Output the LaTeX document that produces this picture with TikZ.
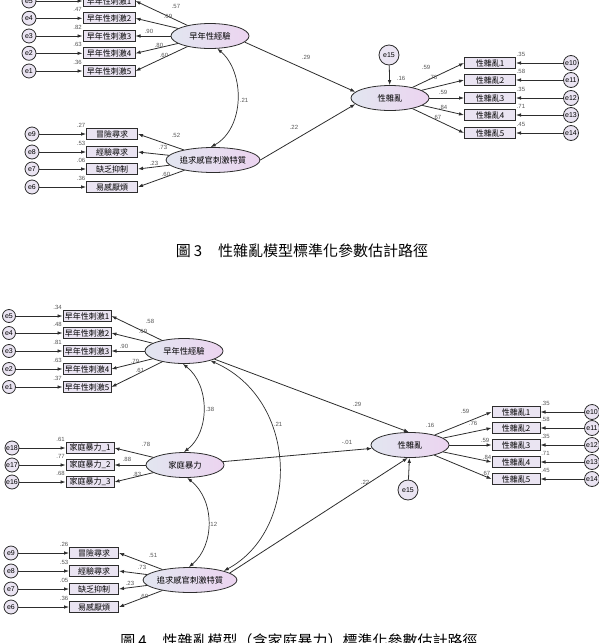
\documentclass[tikz,border=0pt]{standalone}
\usepackage{fontspec}
\setmainfont{Liberation Sans}
\newfontfamily\cjk{Noto Sans CJK TC}
\usepackage{xcolor}
\usetikzlibrary{arrows.meta, shapes.geometric}
\definecolor{LatentL}{RGB}{226,230,240}
\definecolor{LatentR}{RGB}{236,212,240}
\definecolor{BoxFill}{RGB}{234,228,242}
\definecolor{LineGray}{RGB}{45,45,45}
\definecolor{NumGray}{RGB}{85,85,85}

\begin{document}
\begin{tikzpicture}[x=1pt, y=-1pt, >={Latex[length=5pt,width=3.6pt]},
  latent/.style={ellipse, draw=LineGray, line width=0.8pt, left color=LatentL, right color=LatentR,
    minimum width=78, minimum height=25, inner sep=0pt, font=\cjk\fontsize{8.3}{9}\selectfont},
  obs/.style={rectangle, draw=LineGray, line width=1pt, fill=BoxFill, minimum width=50,
    minimum height=11, inner sep=0pt, font=\cjk\fontsize{8}{9}\selectfont},
  err/.style={circle, draw=LineGray, line width=0.8pt, fill=BoxFill, minimum size=14,
    inner sep=0pt, font=\fontsize{7}{8}\selectfont},
  coef/.style={font=\fontsize{6}{7}\selectfont, text=NumGray, inner sep=0.6pt},
  arr/.style={->, line width=0.8pt, draw=LineGray},
  cov/.style={<->, line width=0.7pt, draw=LineGray},
  figcap/.style={font=\cjk\fontsize{15}{16}\selectfont}]
\useasboundingbox (0,0) rectangle (598,643);

% ---- Figure 3 ----
\node[latent] (early3) at (210,36) {早年性經驗};
\node[latent] (sens3) at (213,160) {追求感官刺激特質};
\node[latent] (dis3) at (390,98) {性雜亂};
\node[err, minimum size=20] (e15a) at (389,55) {e15};

\foreach \i/\y/\e/\r/\l/\lx/\ly in {1/1/5/{}/.57/176/6, 2/18.3/4/.47/.69/168/16, 3/36/3/.82/.90/149/31,
    4/53.3/2/.63/.80/159/45, 5/71/1/.36/.60/164/55}{
  \node[obs, minimum width=52, label={[coef]north west:\r}] (a3\i) at (109,\y) {早年性刺激\i};
  \node[err] (ea3\i) at (29,\y) {e\e};
  \draw[arr] (ea3\i) -- (a3\i);
  \draw[arr] (early3) -- (a3\i.east);
  \node[coef] at (\lx,\ly) {\l};
}
\foreach \i/\y/\e/\r/\t/\l/\lx/\ly in {1/134/9/.27/冒險尋求/.52/176/135, 2/152/8/.53/經驗尋求/.73/163/147,
    3/169/7/.06/缺乏抑制/.23/154/163, 4/187/6/.36/易感厭煩/.60/166/174}{
  \node[obs, minimum width=51, label={[coef]north west:\r}] (b3\i) at (112,\y) {\t};
  \node[err] (eb3\i) at (32,\y) {e\e};
  \draw[arr] (eb3\i) -- (b3\i);
  \draw[arr] (sens3) -- (b3\i.east);
  \node[coef] at (\lx,\ly) {\l};
}
\foreach \i/\y/\e/\r/\l/\lx/\ly in {1/63/10/.35/.59/426/67, 2/80/11/.58/.76/433/77, 3/98/12/.35/.59/443/92,
    4/115/13/.71/.84/443/107, 5/133/14/.45/.67/437/117}{
  \node[obs, minimum width=51, label={[coef]north east:\r}] (c3\i) at (490,\y) {性雜亂\i};
  \node[err, minimum size=15] (ec3\i) at (571,\y) {e\e};
  \draw[arr] (ec3\i) -- (c3\i);
  \draw[arr] (dis3) -- (c3\i.west);
  \node[coef] at (\lx,\ly) {\l};
}
\draw[cov] (early3.-60) .. controls (245,72) and (245,128) .. (sens3.100);
\draw[arr] (early3.-10) -- (dis3.170);
\draw[arr] (sens3.east) -- (dis3.-170);
\draw[arr] (e15a) -- (dis3);
\node[coef] at (244,100) {.21};
\node[coef] at (306,57) {.29};
\node[coef] at (294,127) {.22};
\node[coef] at (401,78) {.16};
\node[figcap] (cap3) at (302,251) {圖\hspace{3pt}3\hspace{16pt}性雜亂模型標準化參數估計路徑};

% ---- Figure 4 ----
\node[latent] (early4) at (184,351) {早年性經驗};
\node[latent] (fam4) at (185,465) {家庭暴力};
\node[latent] (sens4) at (190,580) {追求感官刺激特質};
\node[latent] (dis4) at (410,445) {性雜亂};
\node[err, minimum size=20] (e15b) at (408,490) {e15};

\foreach \i/\y/\e/\r/\l/\lx/\ly in {1/316/5/.34/.58/150/321, 2/333/4/.48/.69/143/331, 3/351/3/.81/.90/124/346,
    4/369/2/.63/.79/135/361, 5/387/1/.37/.61/140/370}{
  \node[obs, minimum width=48, label={[coef]north west:\r}] (a4\i) at (87,\y) {早年性刺激\i};
  \node[err, minimum size=13] (ea4\i) at (9,\y) {e\e};
  \draw[arr] (ea4\i) -- (a4\i);
  \draw[arr] (early4) -- (a4\i.east);
  \node[coef] at (\lx,\ly) {\l};
}
\foreach \i/\y/\e/\r/\l/\lx/\ly in {1/448/18/.61/.78/146/444, 2/465/17/.77/.88/127/459, 3/482/16/.68/.83/137/474}{
  \node[obs, minimum width=48, label={[coef]north west:\r}] (f4\i) at (90,\y) {家庭暴力\_\i};
  \node[err] (ef4\i) at (12,\y) {e\e};
  \draw[arr] (ef4\i) -- (f4\i);
  \draw[arr] (fam4) -- (f4\i.east);
  \node[coef] at (\lx,\ly) {\l};
}
\foreach \i/\y/\e/\r/\t/\l/\lx/\ly in {1/553/9/.26/冒險尋求/.51/153/555, 2/571/8/.53/經驗尋求/.73/142/567,
    3/589/7/.05/缺乏抑制/.23/130/583, 4/607/6/.36/易感厭煩/.60/144/596}{
  \node[obs, minimum width=49, label={[coef]north west:\r}] (b4\i) at (94,\y) {\t};
  \node[err] (eb4\i) at (11,\y) {e\e};
  \draw[arr] (eb4\i) -- (b4\i);
  \draw[arr] (sens4) -- (b4\i.east);
  \node[coef] at (\lx,\ly) {\l};
}
\foreach \i/\y/\e/\r/\l/\lx/\ly in {1/412/10/.35/.59/465/411, 2/428/11/.58/.76/473/423, 3/445/12/.35/.59/485/440,
    4/462/13/.71/.84/487/457, 5/479/14/.45/.67/486/473}{
  \node[obs, minimum width=48, label={[coef]north east:\r}] (c4\i) at (516,\y) {性雜亂\i};
  \node[err, minimum size=15] (ec4\i) at (592,\y) {e\e};
  \draw[arr] (ec4\i) -- (c4\i);
  \draw[arr] (dis4) -- (c4\i.west);
  \node[coef] at (\lx,\ly) {\l};
}
\draw[cov] (early4.-95) .. controls (210,385) and (210,432) .. (fam4.95);
\draw[cov] (fam4.-80) .. controls (215,500) and (215,545) .. (sens4.95);
\draw[cov] (early4.-20) .. controls (300,400) and (300,530) .. (sens4.15);
\draw[arr] (early4.-15) -- (dis4.95);
\draw[arr] (fam4) -- (dis4);
\draw[arr] (sens4.10) -- (dis4.-100);
\draw[arr] (e15b) -- (dis4);
\node[coef] at (210,409) {.38};
\node[coef] at (278,424) {.21};
\node[coef] at (213,524) {.12};
\node[coef] at (357,404) {.29};
\node[coef] at (347,442) {-.01};
\node[coef] at (365,482) {.22};
\node[coef] at (430,425) {.16};
\node[figcap] (cap4) at (299,641) {圖\hspace{3pt}4\hspace{16pt}性雜亂模型（含家庭暴力）標準化參數估計路徑};
\end{tikzpicture}
\end{document}
